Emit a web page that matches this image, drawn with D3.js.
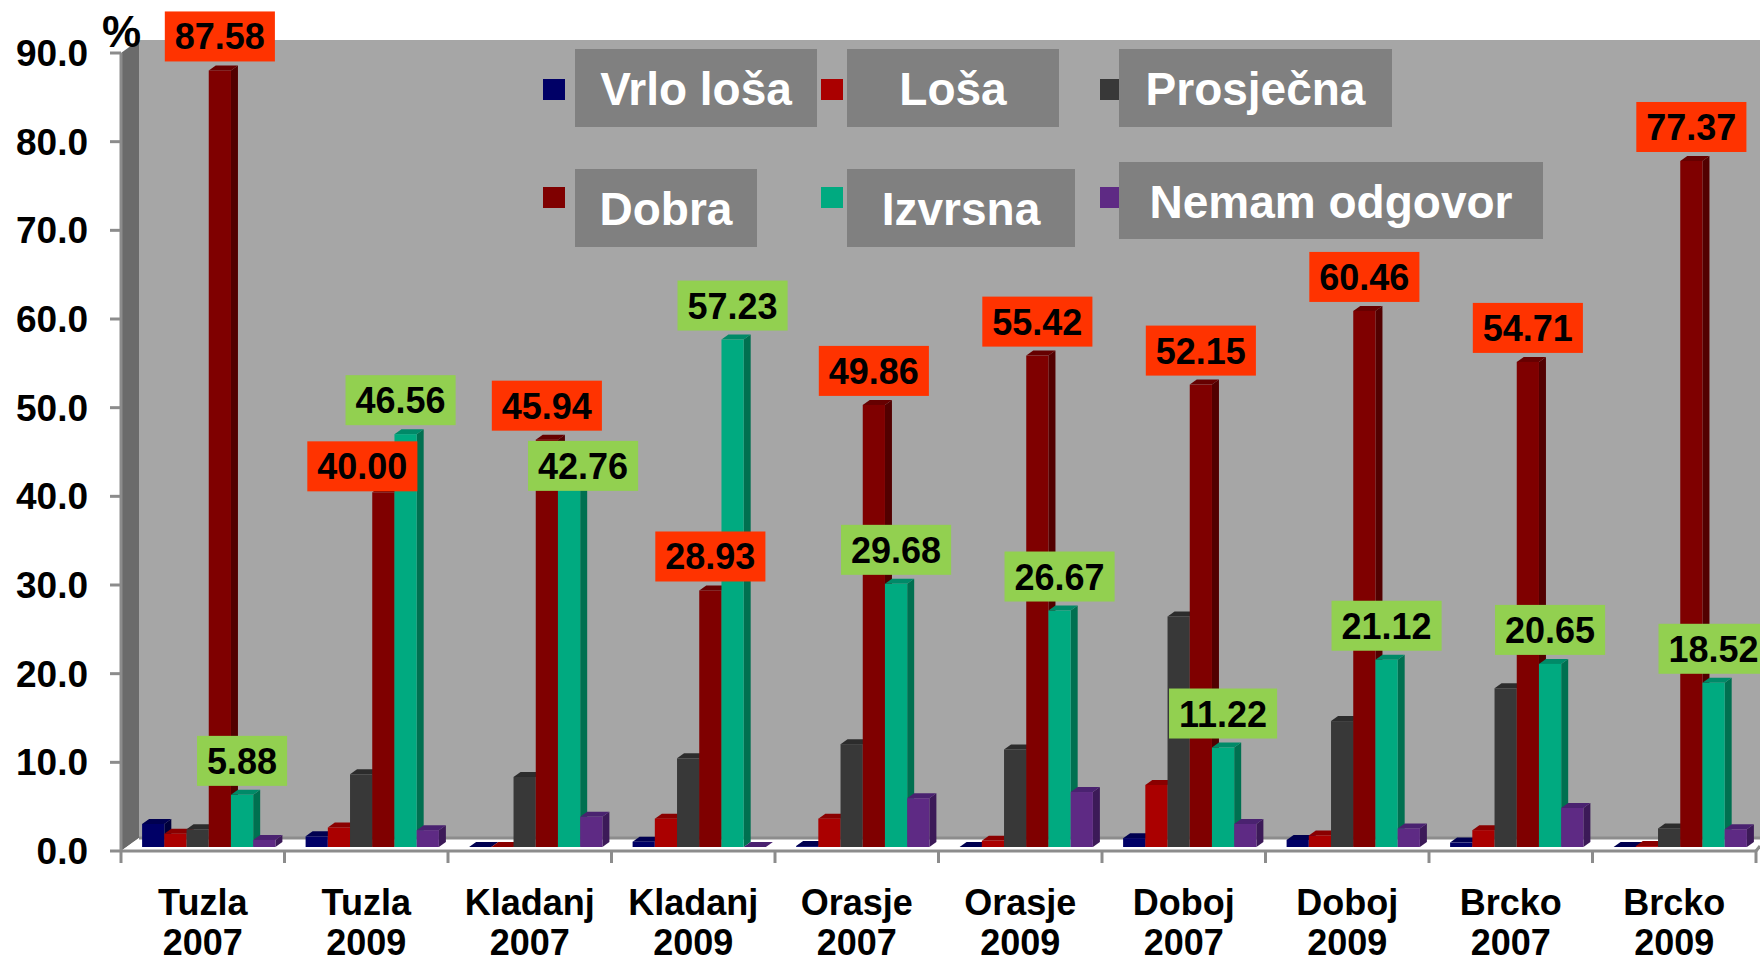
<!DOCTYPE html>
<html>
<head>
<meta charset="utf-8">
<script src="https://cdn.jsdelivr.net/npm/d3@7"></script>
<style>
  body { margin: 0; background: #fff; }
  svg { display: block; font-family: "Liberation Sans", Arial, sans-serif; }
</style>
</head>
<body>
<svg id="chart"></svg>
<script>
const CATEGORIES = ["Tuzla 2007", "Tuzla 2009", "Kladanj 2007", "Kladanj 2009", "Orasje 2007",
  "Orasje 2009", "Doboj 2007", "Doboj 2009", "Brcko 2007", "Brcko 2009"];
const SERIES = ["Vrlo loša", "Loša", "Prosječna", "Dobra", "Izvrsna", "Nemam odgovor"];

const VRLO_LOSA = [2.6, 1.2, 0, 0.6, 0.1, 0, 1.0, 0.8, 0.5, 0];
const LOSA = [1.5, 2.2, 0, 3.2, 3.2, 0.7, 7.0, 1.3, 1.9, 0.1];
const PROSJECNA = [2.0, 8.2, 7.9, 10.0, 11.6, 11.0, 26.0, 14.2, 17.9, 2.1];
const DOBRA = [87.58, 40.00, 45.94, 28.93, 49.86, 55.42, 52.15, 60.46, 54.71, 77.37];
const IZVRSNA = [5.88, 46.56, 42.76, 57.23, 29.68, 26.67, 11.22, 21.12, 20.65, 18.52];
const NEMAM_ODGOVOR = [0.8, 1.9, 3.4, 0, 5.5, 6.2, 2.6, 2.1, 4.4, 2.0];

const Y_TICKS = [0, 10, 20, 30, 40, 50, 60, 70, 80, 90];
const LABELLED = ["Dobra", "Izvrsna"];

const VALUES = [VRLO_LOSA, LOSA, PROSJECNA, DOBRA, IZVRSNA, NEMAM_ODGOVOR];

const SIZE = { width: 1760, height: 964 };
const AXIS = { left: 121, right: 1756, top: 53, bottom: 851 };
const WALL = { dx: 18, dy: -13 };
const BAR3D = { dx: 7, dy: -5, shiftX: 6, shiftY: -4 };

const COLORS = {
  front: ["#000066", "#aa0000", "#383838", "#7f0000", "#00aa80", "#5e2a84"],
  side: ["#00003a", "#6e0000", "#222222", "#520000", "#007050", "#3c1a58"],
  top: ["#000050", "#8a0000", "#2c2c2c", "#660000", "#008a68", "#4a2270"]
};
const LABEL_FILL = { Dobra: "#ff3300", Izvrsna: "#92d050" };

// hand nudges for value labels that were moved in the original
const LABEL_NUDGE = {
  "Dobra|Tuzla 2009": [-21, 8],
  "Izvrsna|Tuzla 2009": [-5, 0],
  "Izvrsna|Kladanj 2007": [14, 32]
};

const LEGEND = [
  { swatch: [543, 79], box: [575, 49, 242, 78] },
  { swatch: [821, 79], box: [847, 49, 212, 78] },
  { swatch: [1100, 79], box: [1119, 49, 273, 78] },
  { swatch: [543, 187], box: [575, 169, 182, 78] },
  { swatch: [821, 187], box: [847, 169, 228, 78] },
  { swatch: [1100, 187], box: [1119, 162, 424, 77] }
];

const svg = d3.select("#chart")
  .attr("width", SIZE.width)
  .attr("height", SIZE.height);

const y = d3.scaleLinear().domain([0, 90]).range([AXIS.bottom, AXIS.top]);

const x0 = d3.scaleBand()
  .domain(CATEGORIES)
  .range([AXIS.left, AXIS.right]);

const x1 = d3.scaleBand()
  .domain(SERIES)
  .range([0, x0.bandwidth()])
  .paddingInner(0)
  .paddingOuter(0.68);

// walls and floor
const wallTop = y(90) + WALL.dy;
const wallBottom = y(0) + WALL.dy;

svg.append("rect")
  .attr("x", AXIS.left + WALL.dx)
  .attr("y", wallTop)
  .attr("width", SIZE.width - AXIS.left - WALL.dx)
  .attr("height", wallBottom - wallTop)
  .attr("fill", "#a6a6a6");

svg.append("polygon")
  .attr("points", [
    [AXIS.left, y(90)], [AXIS.left + WALL.dx, wallTop],
    [AXIS.left + WALL.dx, wallBottom], [AXIS.left, y(0)]
  ].join(" "))
  .attr("fill", "#6b6b6b");

svg.append("polygon")
  .attr("points", [
    [AXIS.left, y(0)], [AXIS.left + WALL.dx, wallBottom],
    [SIZE.width, wallBottom], [SIZE.width, y(0)]
  ].join(" "))
  .attr("fill", "#ffffff");

svg.append("line")
  .attr("x1", AXIS.left + WALL.dx).attr("x2", SIZE.width)
  .attr("y1", wallBottom).attr("y2", wallBottom)
  .attr("stroke", "#8c8c8c").attr("stroke-width", 3);

// y axis
const yAxis = svg.append("g").attr("class", "y-axis");
yAxis.append("line")
  .attr("x1", AXIS.left).attr("x2", AXIS.left)
  .attr("y1", y(90)).attr("y2", y(0))
  .attr("stroke", "#8c8c8c").attr("stroke-width", 3);

yAxis.selectAll(".tick")
  .data(Y_TICKS)
  .join("line")
  .attr("class", "tick")
  .attr("x1", AXIS.left - 11).attr("x2", AXIS.left)
  .attr("y1", d => y(d)).attr("y2", d => y(d))
  .attr("stroke", "#8c8c8c").attr("stroke-width", 3);

yAxis.selectAll(".tick-label")
  .data(Y_TICKS)
  .join("text")
  .attr("class", "tick-label")
  .attr("x", 88)
  .attr("y", d => y(d) + 13)
  .attr("text-anchor", "end")
  .attr("font-size", 37)
  .attr("font-weight", "bold")
  .text(d3.format(".1f"));

svg.append("text")
  .attr("x", 102)
  .attr("y", 47)
  .attr("font-size", 44)
  .attr("font-weight", "bold")
  .text("%");

// bars
const groups = svg.selectAll(".group")
  .data(CATEGORIES)
  .join("g")
  .attr("class", "group")
  .attr("transform", c => `translate(${x0(c) + BAR3D.shiftX},${BAR3D.shiftY})`);

groups.each(function(c, i) {
  const g = d3.select(this);
  SERIES.forEach((s, j) => {
    const v = VALUES[j][i];
    const bx = x1(s);
    const w = x1.bandwidth();
    const top = y(v);
    const base = y(0);
    g.append("polygon")
      .attr("points", [
        [bx + w, top], [bx + w + BAR3D.dx, top + BAR3D.dy],
        [bx + w + BAR3D.dx, base + BAR3D.dy], [bx + w, base]
      ].join(" "))
      .attr("fill", COLORS.side[j]);
    g.append("polygon")
      .attr("points", [
        [bx, top], [bx + BAR3D.dx, top + BAR3D.dy],
        [bx + w + BAR3D.dx, top + BAR3D.dy], [bx + w, top]
      ].join(" "))
      .attr("fill", COLORS.top[j]);
    g.append("rect")
      .attr("x", bx)
      .attr("y", top)
      .attr("width", w)
      .attr("height", base - top)
      .attr("fill", COLORS.front[j]);
  });
});

// x axis
const xAxis = svg.append("g").attr("class", "x-axis");
xAxis.append("line")
  .attr("x1", AXIS.left).attr("x2", AXIS.right)
  .attr("y1", y(0)).attr("y2", y(0))
  .attr("stroke", "#8c8c8c").attr("stroke-width", 3);

xAxis.append("line")
  .attr("x1", AXIS.right).attr("x2", SIZE.width)
  .attr("y1", y(0)).attr("y2", y(0) - 5)
  .attr("stroke", "#8c8c8c").attr("stroke-width", 3);

const edges = CATEGORIES.map(c => x0(c)).concat([AXIS.right]);
xAxis.selectAll(".tick")
  .data(edges)
  .join("line")
  .attr("class", "tick")
  .attr("x1", d => d).attr("x2", d => d)
  .attr("y1", y(0)).attr("y2", y(0) + 12)
  .attr("stroke", "#8c8c8c").attr("stroke-width", 3);

const catLabels = xAxis.selectAll(".cat-label")
  .data(CATEGORIES)
  .join("text")
  .attr("class", "cat-label")
  .attr("text-anchor", "middle")
  .attr("font-size", 36)
  .attr("font-weight", "bold");

catLabels.selectAll("tspan")
  .data(c => c.split(" ").map(t => ({ c, t })))
  .join("tspan")
  .attr("x", d => x0(d.c) + x0.bandwidth() / 2)
  .attr("y", (d, k) => 915 + k * 40)
  .text(d => d.t);

// value labels
LABELLED.forEach(s => {
  const j = SERIES.indexOf(s);
  CATEGORIES.forEach((c, i) => {
    const v = VALUES[j][i];
    const nudge = LABEL_NUDGE[`${s}|${c}`] || [0, 0];
    const cx = x0(c) + BAR3D.shiftX + x1(s) + x1.bandwidth() / 2 + nudge[0];
    const cy = y(v) + BAR3D.shiftY - 34 + nudge[1];
    const g = svg.append("g").attr("class", "value-label");
    const rect = g.append("rect").attr("fill", LABEL_FILL[s]);
    const t = g.append("text")
      .attr("x", cx)
      .attr("y", cy + 13)
      .attr("text-anchor", "middle")
      .attr("font-size", 36)
      .attr("font-weight", "bold")
      .text(v.toFixed(2));
    const tw = t.node().getComputedTextLength();
    rect.attr("x", cx - tw / 2 - 10)
      .attr("y", cy - 25)
      .attr("width", tw + 20)
      .attr("height", 50);
  });
});

// legend
const legend = svg.selectAll(".legend-item")
  .data(SERIES)
  .join("g")
  .attr("class", "legend-item");

legend.append("rect")
  .attr("x", (s, j) => LEGEND[j].swatch[0])
  .attr("y", (s, j) => LEGEND[j].swatch[1])
  .attr("width", 22)
  .attr("height", 21)
  .attr("fill", (s, j) => COLORS.front[j]);

legend.append("rect")
  .attr("x", (s, j) => LEGEND[j].box[0])
  .attr("y", (s, j) => LEGEND[j].box[1])
  .attr("width", (s, j) => LEGEND[j].box[2])
  .attr("height", (s, j) => LEGEND[j].box[3])
  .attr("fill", "#808080");

legend.append("text")
  .attr("x", (s, j) => LEGEND[j].box[0] + LEGEND[j].box[2] / 2)
  .attr("y", (s, j) => LEGEND[j].box[1] + LEGEND[j].box[3] / 2 + 17)
  .attr("text-anchor", "middle")
  .attr("font-size", 46)
  .attr("font-weight", "bold")
  .attr("fill", "#ffffff")
  .text(s => s);
</script>
</body>
</html>
